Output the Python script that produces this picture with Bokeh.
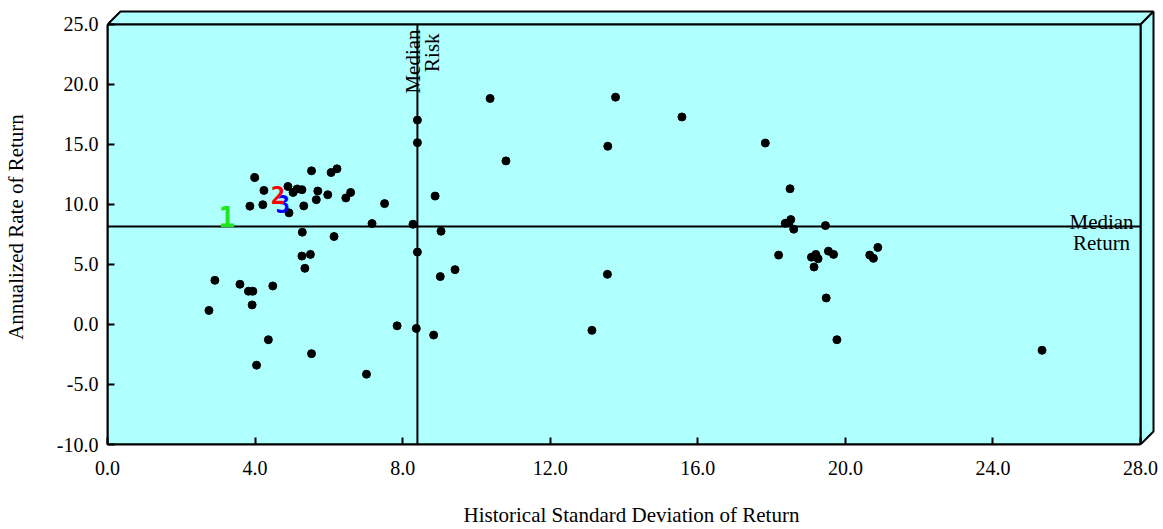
import math
from bokeh.plotting import figure
from bokeh.models import Range1d, FixedTicker, Label, ColumnDataSource, PrintfTickFormatter
from bokeh.embed import file_html
from bokeh.resources import INLINE
from bokeh.core.properties import value

# ---------------- data ----------------
risk = [3.99, 4.24, 3.86, 4.21, 4.89, 5.03, 5.14, 5.27, 4.92, 5.32, 5.53, 6.06, 6.22,
        5.70, 5.66, 5.97, 6.46, 6.59, 7.17, 7.51, 8.28, 8.40, 8.40, 8.88, 9.04, 5.28, 6.14,
        2.75, 2.91, 3.59, 3.82, 3.94, 3.92, 4.48, 5.27, 5.50, 5.35, 4.36, 4.04, 5.53, 7.02,
        7.85, 8.37, 8.84, 8.40, 9.02, 9.42,
        10.37, 13.77, 13.56, 10.80, 15.57, 13.55, 13.13,
        17.83, 18.50, 18.52, 18.37, 18.47, 18.60, 19.46, 18.19, 19.08, 19.20, 19.26, 19.15,
        19.54, 19.68, 20.66, 20.76, 20.88, 19.48, 19.77, 25.33]
ret = [12.25, 11.17, 9.86, 9.98, 11.50, 11.00, 11.29, 11.23, 9.30, 9.88, 12.80, 12.66, 12.97,
       11.12, 10.40, 10.81, 10.54, 11.00, 8.41, 10.07, 8.35, 17.03, 15.15, 10.70, 7.77, 7.69, 7.33,
       1.17, 3.68, 3.35, 2.77, 2.77, 1.63, 3.21, 5.70, 5.84, 4.68, -1.27, -3.39, -2.43, -4.14,
       -0.11, -0.33, -0.88, 6.03, 3.99, 4.57,
       18.83, 18.94, 14.85, 13.63, 17.29, 4.18, -0.49,
       15.12, 11.31, 8.74, 8.43, 8.47, 7.94, 8.24, 5.78, 5.61, 5.84, 5.48, 4.79,
       6.11, 5.84, 5.78, 5.51, 6.42, 2.21, -1.27, -2.15]

median_risk = 8.40
median_return = 8.16

x_ticks = [0, 4, 8, 12, 16, 20, 24, 28]
y_ticks = [-10, -5, 0, 5, 10, 15, 20, 25]

marker_text = ["1", "3", "2"]
marker_x = [3.24, 4.75, 4.62]
marker_y = [9.03, 10.0, 10.77]

x_title = "Historical Standard Deviation of Return"
y_title = "Annualized Rate of Return"

# ---------------- styles ----------------
marker_color = ["#1ee61e", "#0000ff", "#ff0000"]
marker_size = ["28px", "24px", "24px"]
BG = "#b0ffff"
FONT = "Liberation Serif"

X0, X1 = x_ticks[0], x_ticks[-1]
Y0, Y1 = y_ticks[0], y_ticks[-1]
PX_X = 37.0     # pixels per x unit
PX_Y = 12.06    # pixels per y unit
DEPTH = 13.0    # 3D depth in pixels
dx = DEPTH / PX_X
dy = DEPTH / PX_Y
x_end = X1 + 15.0 / PX_X
y_end = Y1 + 15.0 / PX_Y

p = figure(width=1163, height=529, title=None,
           x_range=Range1d(X0, x_end), y_range=Range1d(Y0, y_end),
           output_backend="svg", toolbar_location=None,
           min_border_left=104, min_border_right=8, min_border_top=9, min_border_bottom=83)
p.background_fill_color = "white"
p.border_fill_color = "white"
p.outline_line_color = None
p.grid.visible = False

# 3D box faces
p.patch([X0, X1, X1 + dx, X0 + dx], [Y1, Y1, Y1 + dy, Y1 + dy],
        fill_color=BG, line_color="black", line_width=2)
p.patch([X1, X1 + dx, X1 + dx, X1], [Y0, Y0 + dy, Y1 + dy, Y1],
        fill_color=BG, line_color="black", line_width=2)
p.quad(left=[X0], right=[X1], bottom=[Y0], top=[Y1],
       fill_color=BG, line_color="black", line_width=2)

# median lines
p.segment(x0=[median_risk], y0=[Y0], x1=[median_risk], y1=[Y1], line_color="black", line_width=2)
p.segment(x0=[X0], y0=[median_return], x1=[X1], y1=[median_return], line_color="black", line_width=2)

# points
p.scatter(risk, ret, size=8, fill_color="black", line_color="black")

# marker labels
src = ColumnDataSource(dict(x=marker_x, y=marker_y, t=marker_text, c=marker_color, s=marker_size))
p.text(x="x", y="y", text="t", text_color="c", text_font_size="s", source=src,
       text_font=value("DejaVu Sans Mono"), text_font_style="bold",
       text_align="center", text_baseline="middle")

# median annotations
p.add_layout(Label(x=median_risk, y=Y1, x_offset=-4, y_offset=-5, angle=math.pi / 2,
                   text="Median", text_align="right", text_baseline="alphabetic",
                   text_font=FONT, text_font_size="21px", text_color="black"))
p.add_layout(Label(x=median_risk, y=Y1, x_offset=3, y_offset=-9, angle=math.pi / 2,
                   text="Risk", text_align="right", text_baseline="top",
                   text_font=FONT, text_font_size="21px", text_color="black"))
p.add_layout(Label(x=X1, y=median_return, x_offset=-39, y_offset=5,
                   text="Median", text_align="center", text_baseline="alphabetic",
                   text_font=FONT, text_font_size="21px", text_color="black"))
p.add_layout(Label(x=X1, y=median_return, x_offset=-39, y_offset=-4,
                   text="Return", text_align="center", text_baseline="top",
                   text_font=FONT, text_font_size="21px", text_color="black"))

# axes
for ax, ticks, bounds in ((p.xaxis, x_ticks, (X0, X1)), (p.yaxis, y_ticks, (Y0, Y1))):
    ax.ticker = FixedTicker(ticks=ticks)
    ax.formatter = PrintfTickFormatter(format="%.1f")
    ax.bounds = bounds
    ax.axis_line_width = 2
    ax.axis_line_color = "black"
    ax.major_tick_in = 7
    ax.major_tick_out = 0
    ax.major_tick_line_width = 2
    ax.major_tick_line_color = "black"
    ax.minor_tick_line_color = None
    ax.major_label_text_font = FONT
    ax.major_label_text_font_size = "20px"
    ax.major_label_text_color = "black"
    ax.axis_label_text_font = FONT
    ax.axis_label_text_font_size = "21px"
    ax.axis_label_text_font_style = "normal"
    ax.axis_label_text_color = "black"

p.xaxis.axis_label = x_title
p.yaxis.axis_label = y_title
p.xaxis.major_label_standoff = 16
p.xaxis.axis_label_standoff = 25
p.yaxis.major_label_standoff = 9
p.yaxis.axis_label_standoff = 26

open("out.html", "w").write(file_html(p, INLINE))
